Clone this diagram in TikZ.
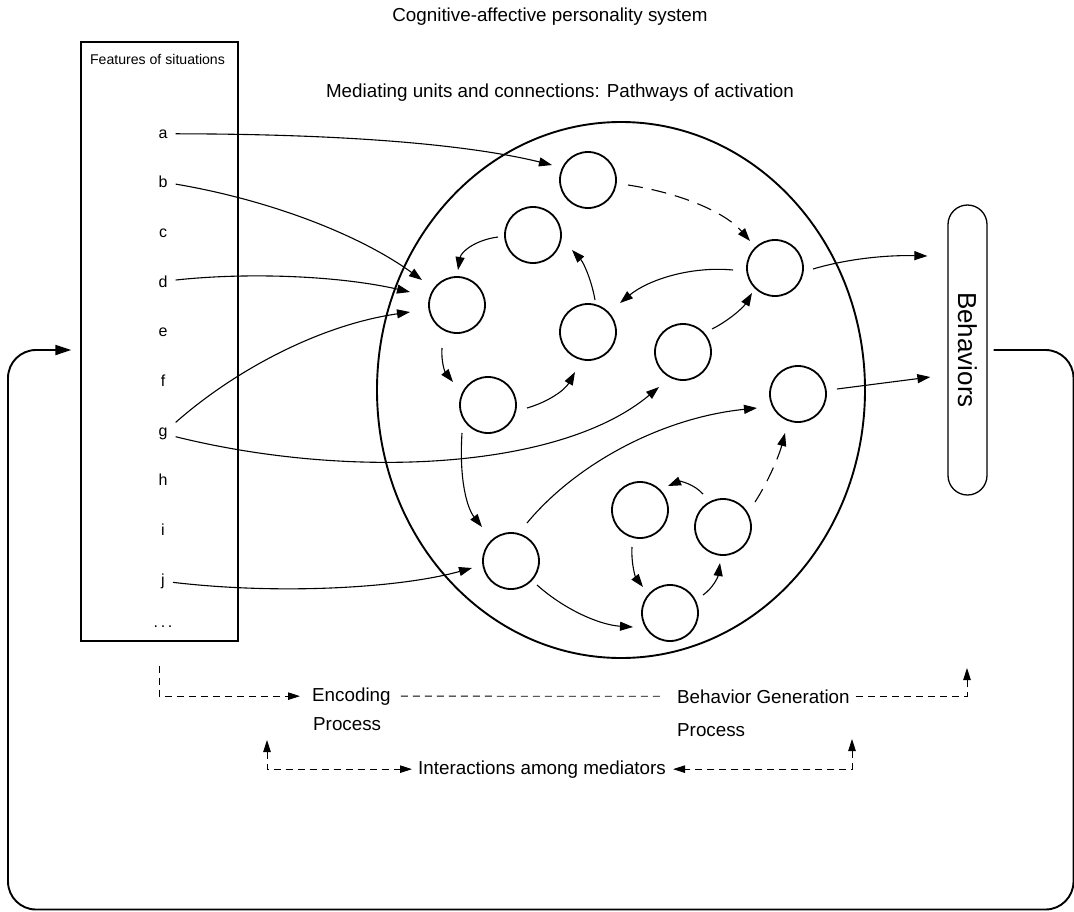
\documentclass[tikz,border=0pt]{standalone}
\usepackage{fontspec}
\setmainfont{Liberation Sans}
\usetikzlibrary{arrows.meta,shapes.geometric}
\newcommand\sizedfont[1]{\fontsize{#1}{#1}\selectfont}

\begin{document}
\begin{tikzpicture}[x=1pt,y=-1pt,
  medunit/.style={circle,draw,line width=1.8pt,minimum size=56pt,inner sep=0pt},
  conn/.style={line width=1.1pt,-{Triangle[length=13pt,width=9pt]}},
  gapdash/.style={dash pattern=on 15pt off 9pt},
  procdash/.style={line width=0.9pt,dash pattern=on 7pt off 5pt},
  procarrow/.style={procdash,-{Triangle[length=12pt,width=7.5pt]}},
  procboth/.style={procdash,{Triangle[length=12pt,width=7.5pt]}-{Triangle[length=12pt,width=7.5pt]}},
  featitem/.style={inner sep=8pt,font=\sizedfont{16}},
  lbl/.style={font=\sizedfont{18.8},inner sep=0pt},
]
\useasboundingbox (0,0) rectangle (1074,911);

% headings
\node[lbl,anchor=base] (title) at (550,21) {Cognitive-affective personality system};
\node[lbl,anchor=base] (sub) at (560,97) {Mediating units and connections: Pathways of activation};

% features of situations
\node[draw,line width=1.2pt,minimum width=157pt,minimum height=599pt,inner sep=0pt] (feat) at (159.5,341.5) {};
\node[font=\sizedfont{14.1},inner sep=0pt,anchor=base] (feattitle) at (157.5,64) {Features of situations};
\foreach \l [count=\i from 0] in {a,b,c,d,e,f,g,h,i,j}
  \node[featitem,anchor=base] (l\l) at (163,{138+49.7*\i}) {\l};
\node[featitem,anchor=base] (ldots) at (163,627) {.\,.\,.};

% personality system and its mediating units
\node[ellipse,draw,line width=1.9pt,minimum width=488pt,minimum height=536pt,inner sep=0pt] (sys) at (621,390) {};
\node[medunit] (c1) at (588,180) {};
\node[medunit] (c2) at (533,235) {};
\node[medunit] (c3) at (457,305) {};
\node[medunit] (c4) at (588,332) {};
\node[medunit] (c5) at (488,405) {};
\node[medunit] (c6) at (683,352) {};
\node[medunit] (c7) at (775,268) {};
\node[medunit] (c8) at (798,394) {};
\node[medunit] (c9) at (511,561) {};
\node[medunit] (c10) at (640,510) {};
\node[medunit] (c11) at (723,527) {};
\node[medunit] (c12) at (670,613) {};

% features feeding into units
\draw[conn] (la) .. controls (350,134) and (470,145) .. ([shift={(-36,-15)}]c1.center);
\draw[conn] (lb) .. controls (270,200) and (360,235) .. ([shift={(-35,-25)}]c3.center);
\draw[conn] (ld) .. controls (250,272) and (340,276) .. ([shift={(-47,-13)}]c3.center);
\draw[conn] (lg) .. controls (235,370) and (320,325) .. ([shift={(-47,7)}]c3.center);
\draw[conn] (lg) .. controls (350,480) and (560,470) .. ([shift={(-24,35)}]c6.center);
\draw[conn] (lj) .. controls (280,595) and (400,588) .. ([shift={(-39,7)}]c9.center);

% links among units
\draw[conn,gapdash] ([shift={(40,5)}]c1.center) .. controls (680,193) and (725,212) .. ([shift={(-25,-27)}]c7.center);
\draw[conn] ([shift={(-35,2)}]c2.center) .. controls (475,240) and (461,252) .. ([shift={(1,-35)}]c3.center);
\draw[conn] ([shift={(-15,43)}]c3.center) .. controls (441,362) and (445,372) .. ([shift={(-35,-23)}]c5.center);
\draw[conn] ([shift={(39,3)}]c5.center) .. controls (548,402) and (565,390) .. ([shift={(-13,40)}]c4.center);
\draw[conn] ([shift={(7,-32)}]c4.center) .. controls (592,282) and (584,263) .. ([shift={(39,15)}]c2.center);
\draw[conn] ([shift={(-42,2)}]c7.center) .. controls (690,266) and (648,280) .. ([shift={(32,-29)}]c4.center);
\draw[conn] ([shift={(29,-23)}]c6.center) .. controls (728,321) and (743,308) .. ([shift={(-23,25)}]c7.center);
\draw[conn] ([shift={(-26,28)}]c5.center) .. controls (459,480) and (467,508) .. ([shift={(-29,-34)}]c9.center);
\draw[conn] ([shift={(16,-38)}]c9.center) .. controls (575,465) and (660,418) .. ([shift={(-41,14)}]c8.center);
\draw[conn] ([shift={(26,24)}]c9.center) .. controls (565,610) and (600,625) .. ([shift={(-37,14)}]c12.center);
\draw[conn] ([shift={(-8,37)}]c10.center) .. controls (631,565) and (636,578) .. ([shift={(-27,-26)}]c12.center);
\draw[conn] ([shift={(33,-18)}]c12.center) .. controls (713,588) and (718,577) .. ([shift={(-3,36)}]c11.center);
\draw[conn] ([shift={(-20,-33)}]c11.center) .. controls (694,484) and (680,481) .. ([shift={(28,-24)}]c10.center);
\draw[conn,gapdash] ([shift={(32,-25)}]c11.center) .. controls (768,482) and (779,456) .. ([shift={(-13,39)}]c8.center);

% behaviors
\node[draw,line width=1.3pt,rounded corners=19.5pt,minimum width=39pt,minimum height=290pt,inner sep=0pt,font=\sizedfont{26}] (beh) at (967.5,350) {\rotatebox{-90}{Behaviors}};
\draw[conn] ([shift={(38,1)}]c7.center) .. controls (850,258) and (890,255) .. ([shift={(-20,-94)}]beh.west);
\draw[conn] ([shift={(39,-5)}]c8.center) -- ([shift={(-17,27)}]beh.west);

% feedback from behaviors back to situations
\coordinate (ret) at (feat.west |- beh.east);
\draw[line width=1.9pt,rounded corners=28pt,-{Triangle[length=16pt,width=10pt]}]
  ([xshift=6pt]beh.east) -- (1073.5,350) -- (1073.5,909.5) -- (8,909.5) -- (8,350) -- ([xshift=-9pt]ret);

% processes
\node[lbl,anchor=base west] (enc) at (312,701) {Encoding};
\node[lbl,anchor=base west] (encp) at (313,730) {Process};
\node[lbl,anchor=base west] (bg) at (677,703) {Behavior Generation};
\node[lbl,anchor=base west] (bgp) at (677,736) {Process};
\node[lbl,anchor=base west] (inter) at (418,774) {Interactions among mediators};

\coordinate (encstart) at (159,666);
\coordinate (genend) at (967,668);
\coordinate (leftup) at (267,740);
\coordinate (rightup) at (852,739);
\draw[procarrow] (encstart) |- ([xshift=-12pt]enc.west);
\draw[procdash] ([xshift=10pt]enc.east) -- ([xshift=-15pt]bg.west);
\draw[procarrow] ([xshift=6pt]bg.east) -| (genend);
\draw[procboth] (leftup) |- ([xshift=-6pt]inter.west);
\draw[procboth] (rightup) |- ([xshift=7pt]inter.east);
\end{tikzpicture}
\end{document}
